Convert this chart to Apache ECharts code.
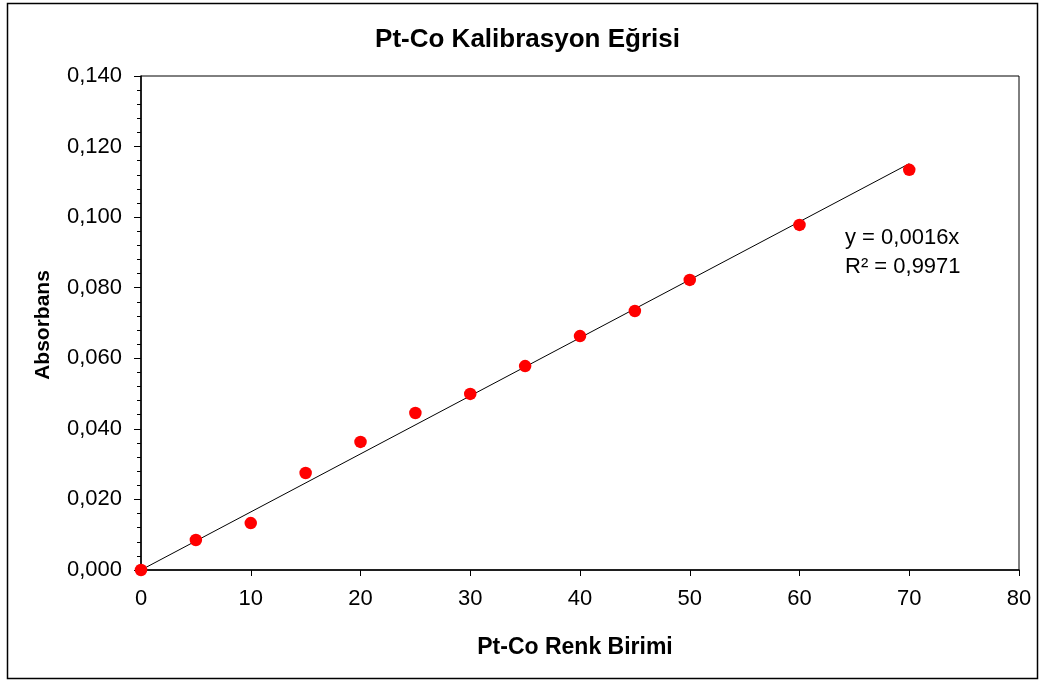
<!DOCTYPE html>
<html><head><meta charset="utf-8">
<script src="https://cdn.jsdelivr.net/npm/echarts@6/dist/echarts.min.js"></script>
<style>html,body{margin:0;padding:0;background:#fff}#c{width:1043px;height:684px}</style>
</head><body><div id="c"></div>
<script>
const titleText = 'Pt-Co Kalibrasyon Eğrisi';
const xName = 'Pt-Co Renk Birimi';
const yName = 'Absorbans';
const ptco = [0, 5, 10, 15, 20, 25, 30, 35, 40, 45, 50, 60, 70];
const absorbans = [0.000, 0.0085, 0.0133, 0.0275, 0.0363, 0.0445, 0.0499, 0.0578, 0.0663, 0.0734, 0.0822, 0.0978, 0.1134];
const eqLines = ['y = 0,0016x', 'R² = 0,9971'];

// least-squares slope through origin (trendline)
let sxy = 0, sxx = 0;
ptco.forEach((x, i) => { sxy += x * absorbans[i]; sxx += x * x; });
const slope = sxy / sxx;
const xMaxData = Math.max(...ptco);
const trend = [[0, 0], [xMaxData, slope * xMaxData]];

const chart = echarts.init(document.getElementById('c'), null, {renderer: 'canvas'});
const font = 'Liberation Sans, Arial, sans-serif';
chart.setOption({
  animation: false,
  backgroundColor: '#fff',
  textStyle: {fontFamily: font},
  grid: {left: 141, right: 24, top: 76, bottom: 114, show: true, borderColor: '#000', borderWidth: 1, backgroundColor: 'transparent'},
  xAxis: {type: 'value', min: 0, max: 80, interval: 10,
    axisLine: {lineStyle: {color: '#000', width: 1.5}},
    axisTick: {show: true, length: 6, lineStyle: {color: '#000'}},
    axisLabel: {fontFamily: font, fontSize: 22, color: '#000', margin: 18},
    splitLine: {show: false}},
  yAxis: {type: 'value', min: 0, max: 0.14, interval: 0.02,
    axisLine: {show: true, lineStyle: {color: '#000', width: 1.5}},
    axisTick: {show: true, length: 7, lineStyle: {color: '#000'}},
    minorTick: {show: true, splitNumber: 5, length: 4, lineStyle: {color: '#000'}},
    axisLabel: {fontFamily: font, fontSize: 22, color: '#000', margin: 19,
      formatter: v => v.toFixed(3).replace('.', ',')},
    splitLine: {show: false}},
  series: [
    {type: 'line', data: trend, showSymbol: false, symbol: 'none',
      lineStyle: {color: '#000', width: 1}, z: 2, silent: true},
    {type: 'scatter', data: ptco.map((x, i) => [x, absorbans[i]]),
      symbol: 'circle', symbolSize: 12.5, itemStyle: {color: '#ff0000', opacity: 1}, z: 3}
  ],
  graphic: [
    {type: 'rect', shape: {x: 7.5, y: 3.5, width: 1030, height: 675}, style: {fill: 'none', stroke: '#000', lineWidth: 1.5}, silent: true},
    {type: 'text', x: 527.5, y: 40, style: {text: titleText, font: 'bold 26px ' + font, fill: '#000', align: 'center', verticalAlign: 'middle'}},
    {type: 'text', x: 575, y: 648, style: {text: xName, font: 'bold 23px ' + font, fill: '#000', align: 'center', verticalAlign: 'middle'}},
    {type: 'text', x: 43, y: 325, rotation: Math.PI / 2, style: {text: yName, font: 'bold 21px ' + font, fill: '#000', align: 'center', verticalAlign: 'middle'}},
    {type: 'text', x: 845, y: 238, style: {text: eqLines[0], font: '22px ' + font, fill: '#000', align: 'left', verticalAlign: 'middle'}},
    {type: 'text', x: 845, y: 267, style: {text: eqLines[1], font: '22px ' + font, fill: '#000', align: 'left', verticalAlign: 'middle'}}
  ]
});
</script></body></html>
